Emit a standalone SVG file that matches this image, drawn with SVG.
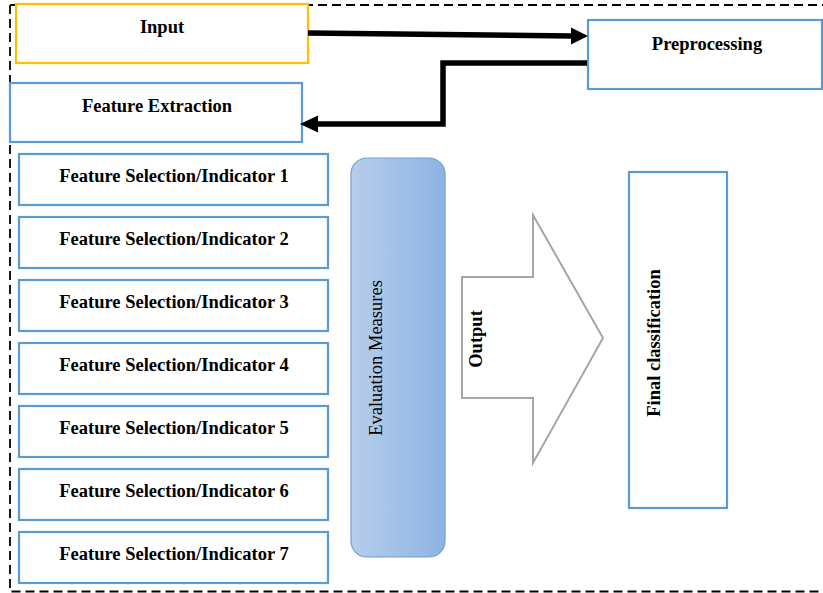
<svg xmlns="http://www.w3.org/2000/svg" width="823" height="593" viewBox="0 0 823 593">
<defs>
<linearGradient id="evalGrad" x1="0" y1="0" x2="1" y2="0">
<stop offset="0" stop-color="#B7CEEB"/>
<stop offset="1" stop-color="#8DB3E2"/>
</linearGradient>
<style>
.box{fill:#fff;stroke:#5B9BD5;stroke-width:2.2}
.lbl{font-family:'Liberation Serif','Times New Roman',serif;font-weight:bold;font-size:18.5px;fill:#000;text-anchor:middle}
.conn{fill:none;stroke:#000;stroke-width:5.5}
.head{fill:#000;stroke:none}
</style>
</defs>
<rect width="823" height="593" fill="#fff"/>
<g id="frame">
<path d="M10,5 H823 M10,5 V591.5 H823" fill="none" stroke="#000" stroke-width="1.8" stroke-dasharray="9,5"/>
</g>
<g id="input">
<rect x="16" y="4" width="292" height="59" fill="#fff" stroke="#FFC000" stroke-width="2.2"/>
<text class="lbl" x="162" y="33">Input</text>
</g>
<g id="preprocessing">
<rect class="box" x="588" y="20" width="234" height="69"/>
<text class="lbl" x="707" y="50">Preprocessing</text>
</g>
<g id="feature-extraction">
<rect class="box" x="10" y="83" width="292" height="59"/>
<text class="lbl" x="157" y="112">Feature Extraction</text>
</g>
<g id="fs1"><rect class="box" x="19" y="154" width="309" height="51"/><text class="lbl" x="174" y="182">Feature Selection/Indicator 1</text></g>
<g id="fs2"><rect class="box" x="19" y="217" width="309" height="51"/><text class="lbl" x="174" y="245">Feature Selection/Indicator 2</text></g>
<g id="fs3"><rect class="box" x="19" y="280" width="309" height="51"/><text class="lbl" x="174" y="308">Feature Selection/Indicator 3</text></g>
<g id="fs4"><rect class="box" x="19" y="343" width="309" height="51"/><text class="lbl" x="174" y="371">Feature Selection/Indicator 4</text></g>
<g id="fs5"><rect class="box" x="19" y="406" width="309" height="51"/><text class="lbl" x="174" y="434">Feature Selection/Indicator 5</text></g>
<g id="fs6"><rect class="box" x="19" y="469" width="309" height="51"/><text class="lbl" x="174" y="497">Feature Selection/Indicator 6</text></g>
<g id="fs7"><rect class="box" x="19" y="532" width="309" height="51"/><text class="lbl" x="174" y="560">Feature Selection/Indicator 7</text></g>
<g id="evaluation">
<rect x="351" y="158" width="94" height="399" rx="16" ry="16" fill="url(#evalGrad)" stroke="#6FA0D8" stroke-width="1.2"/>
<text transform="translate(382,358) rotate(-90)" font-family="'Liberation Serif','Times New Roman',serif" font-size="18.5" text-anchor="middle" fill="#000">Evaluation Measures</text>
</g>
<g id="output">
<polygon points="462,277 533,277 533,215 603,338 533,463 533,398 462,398" fill="#fff" stroke="#A6A6A6" stroke-width="2"/>
<text class="lbl" transform="translate(482,339) rotate(-90)">Output</text>
</g>
<g id="final">
<rect class="box" x="629" y="172" width="98" height="336"/>
<text class="lbl" transform="translate(660,343) rotate(-90)">Final classification</text>
</g>
<g id="connectors">
<path class="conn" d="M308,33 L573,36"/>
<polygon class="head" points="571,27.5 588,36 571,44.5"/>
<path class="conn" d="M587,63 H443 V124 H316"/>
<polygon class="head" points="318,115.5 300,124 318,132.5"/>
</g>
</svg>
